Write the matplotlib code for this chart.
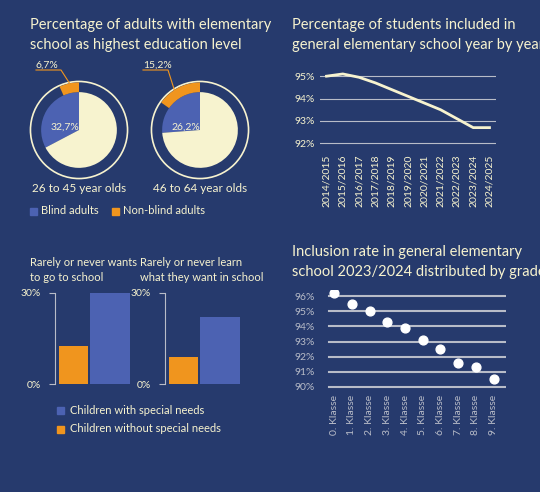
import matplotlib
matplotlib.use("Agg")
import matplotlib.pyplot as plt
import numpy as np

BG = "#263a6d"; CREAM = "#f7f3cf"; BLUE = "#4c62b2"; ORANGE = "#f0951e"; GRID = "#b8bcc8"
plt.rcParams['font.family'] = ['Lato', 'DejaVu Sans']

pie_labels = ["26 to 45 year olds", "46 to 64 year olds"]
blind_pct = [32.7, 26.2]
nonblind_pct = [6.7, 15.2]
pie_texts = ["32,7%", "26,2%"]
nb_texts = ["6,7%", "15,2%"]

years = ["2014/2015","2015/2016","2016/2017","2017/2018","2018/2019","2019/2020",
         "2020/2021","2021/2022","2022/2023","2023/2024","2024/2025"]
year_vals = [95.0, 95.1, 94.95, 94.7, 94.4, 94.1, 93.8, 93.5, 93.1, 92.7, 92.7]

bar_titles = ["Rarely or never wants\nto go to school", "Rarely or never learn\nwhat they want in school"]
special = [30, 22]
nonspecial = [12.5, 9]

grades = [f"{i}. Klasse" for i in range(10)]
grade_vals = [96.2, 95.5, 95.0, 94.3, 93.9, 93.1, 92.5, 91.6, 91.3, 90.5]

W, H = 540, 492
fig = plt.figure(figsize=(W/100, H/100), dpi=100, facecolor=BG)
def ax_px(x0, y0, x1, y1, **kw):
    return fig.add_axes([x0/W, 1-y1/H, (x1-x0)/W, (y1-y0)/H], **kw)
def txt(x, y, s, **kw):
    fig.text(x/W, 1-y/H, s, **kw)

# Title top-left
txt(30, 35, "Percentage of adults with elementary\nschool as highest education level", color=CREAM, fontsize=10.5, va="center", linespacing=1.5)
for i, cx in enumerate([79, 200]):
    ax = ax_px(cx-50, 80, cx+50, 180)
    ax.set_aspect("equal"); ax.axis("off")
    ax.add_patch(plt.Circle((0, 0), 1.0, fill=False, ec=CREAM, lw=1.2))
    ax.pie([blind_pct[i], 100-blind_pct[i]], colors=[BLUE, CREAM], startangle=90, counterclock=True, radius=0.78,
           wedgeprops=dict(lw=0))
    ax.pie([nonblind_pct[i], 100-nonblind_pct[i]], colors=[ORANGE, "none"], startangle=90, counterclock=True,
           radius=0.98, wedgeprops=dict(width=0.2, lw=0))
    ax.text(-0.3, 0.05, pie_texts[i], color=CREAM, fontsize=7.5, ha="center", va="center")
    ax.set_xlim(-1.03, 1.03); ax.set_ylim(-1.03, 1.03)
    txt(cx, 189, pie_labels[i], color=CREAM, fontsize=8.5, ha="center", va="center")
txt(36, 65, nb_texts[0], color=CREAM, fontsize=7.5, va="center")
txt(143, 65, nb_texts[1], color=CREAM, fontsize=7.5, va="center")
fig.add_artist(plt.Line2D([36/W, 61/W, 70/W], [1-70/H, 1-70/H, 1-84/H], color=ORANGE, lw=0.8))
fig.add_artist(plt.Line2D([143/W, 168/W, 175/W], [1-70/H, 1-70/H, 1-92/H], color=ORANGE, lw=0.8))
# legend
fig.add_artist(plt.Rectangle((30/W, 1-215/H), 7/W, 7/H, color=BLUE))
txt(41, 211, "Blind adults", color=CREAM, fontsize=8, va="center")
fig.add_artist(plt.Rectangle((112/W, 1-215/H), 7/W, 7/H, color=ORANGE))
txt(123, 211, "Non-blind adults", color=CREAM, fontsize=8, va="center")

# Line chart
txt(292, 35, "Percentage of students included in\ngeneral elementary school year by year", color=CREAM, fontsize=10.5, va="center", linespacing=1.5)
ax = ax_px(320, 65, 496, 150, facecolor=BG)
x = np.arange(len(years))
for v in [92, 93, 94, 95]:
    ax.axhline(v, color=GRID, lw=0.8)
ax.plot(x, year_vals, color=CREAM, lw=2)
ax.set_ylim(91.7, 95.5); ax.set_xlim(-0.4, len(years)-0.6)
ax.set_yticks([92, 93, 94, 95]); ax.set_yticklabels([f"{v}%" for v in [92, 93, 94, 95]])
ax.set_xticks(x); ax.set_xticklabels(years, rotation=90)
ax.tick_params(colors=CREAM, length=0, labelsize=7.5)
for s in ax.spines.values(): s.set_visible(False)

# Bar charts
for i, x0 in enumerate([55, 165]):
    txt(x0-25, 270, bar_titles[i], color=CREAM, fontsize=8, va="center", linespacing=1.5)
    ax = ax_px(x0, 293, x0+80, 384, facecolor=BG)
    ax.bar([0.5], [nonspecial[i]], width=0.8, color=ORANGE)
    ax.bar([1.5], [special[i]], width=1.1, color=BLUE)
    ax.set_xlim(0, 2.2); ax.set_ylim(0, 30)
    ax.set_yticks([0, 30]); ax.set_yticklabels(["0%", "30%"]); ax.set_xticks([])
    ax.tick_params(colors=CREAM, length=4, color=GRID, labelsize=7.5, pad=6)
    for s in ax.spines.values(): s.set_visible(False)
    ax.spines["left"].set_visible(True); ax.spines["left"].set_color(GRID)
fig.add_artist(plt.Rectangle((57/W, 1-414/H), 7/W, 7/H, color=BLUE))
txt(70, 410, "Children with special needs", color=CREAM, fontsize=8, va="center")
fig.add_artist(plt.Rectangle((57/W, 1-433/H), 7/W, 7/H, color=ORANGE))
txt(70, 429, "Children without special needs", color=CREAM, fontsize=8, va="center")

# Dot chart
txt(292, 262, "Inclusion rate in general elementary\nschool 2023/2024 distributed by grade", color=CREAM, fontsize=10.5, va="center", linespacing=1.5)
ax = ax_px(320, 290, 506, 390, facecolor=BG)
for v in range(90, 97):
    ax.axhline(v, color=GRID, lw=1.5, xmin=0.05)
xg = np.arange(len(grades))
ax.scatter(xg, grade_vals, s=40, color="white", zorder=3)
ax.set_xlim(-0.8, 9.7); ax.set_ylim(89.8, 96.4)
ax.set_yticks(range(90, 97)); ax.set_yticklabels([f"{v}%" for v in range(90, 97)])
ax.set_xticks(xg); ax.set_xticklabels(grades, rotation=90)
ax.tick_params(colors=GRID, length=0, labelsize=7.5)
for s in ax.spines.values(): s.set_visible(False)

fig.savefig("out.png", dpi=100, facecolor=BG)
